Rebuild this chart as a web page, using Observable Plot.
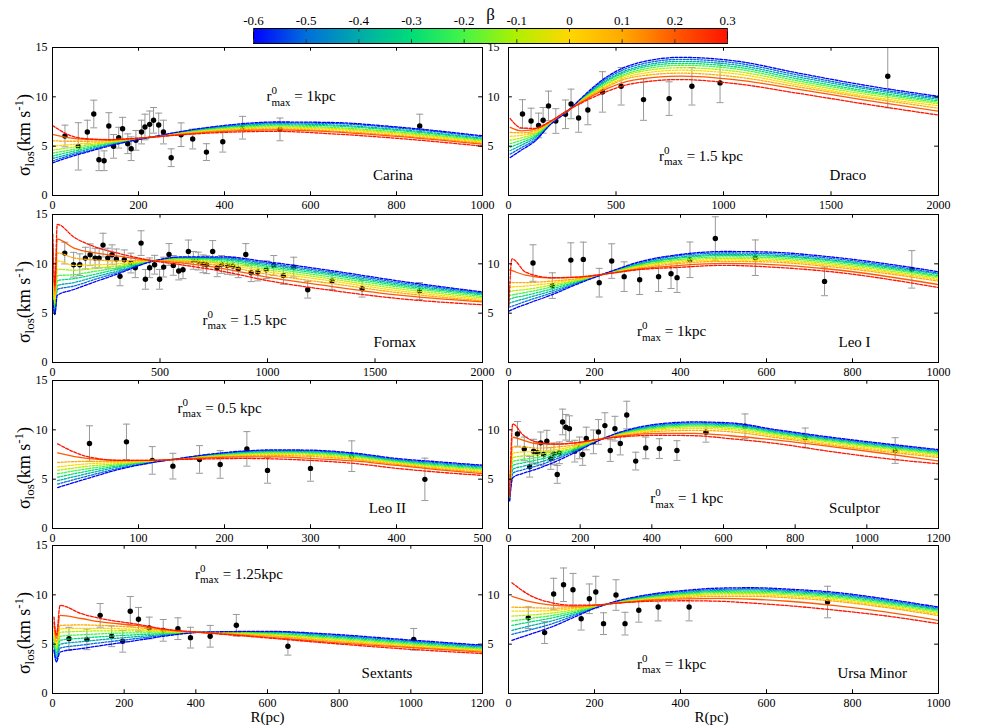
<!DOCTYPE html>
<html><head><meta charset="utf-8">
<script src="https://cdn.jsdelivr.net/npm/d3@7"></script>
<script src="https://cdn.jsdelivr.net/npm/@observablehq/plot@0.6"></script>
<style>
body{margin:0;background:#fff;}
#chart{position:relative;width:981px;height:725px;overflow:hidden;background:#fff;}
#chart svg{position:absolute;overflow:hidden;background:transparent;}
</style></head><body><div id="chart"></div>
<script>
const FONT = "Liberation Serif";
const ERR = "#999999";

// colour bar: anisotropy parameter beta
const betas = [-0.6, -0.5, -0.4, -0.3, -0.2, -0.1, 0, 0.1, 0.2, 0.3];
const betaColors = ["#0000ff", "#006edc", "#00aaaa", "#00dc78", "#46f546", "#aff000", "#ffd700", "#ffaa00", "#ff5a00", "#ff1400"];
const betaLabels = ["-0.6", "-0.5", "-0.4", "-0.3", "-0.2", "-0.1", "0", "0.1", "0.2", "0.3"];

// tick values
const yTicks = [0, 5, 10, 15];
const yTicksRightTop = [5, 10, 15];
const yTicksRight = [5, 10];
const ticks1000 = [0, 200, 400, 600, 800, 1000];
const ticks2000 = [0, 500, 1000, 1500, 2000];
const ticks500 = [0, 100, 200, 300, 400, 500];
const ticks1200 = [0, 200, 400, 600, 800, 1000, 1200];

const panelNames = ["Carina", "Draco", "Fornax", "Leo I", "Leo II", "Sculptor", "Sextants", "Ursa Minor"];
const rmaxTexts = [" = 1kpc", " = 1.5 kpc", " = 1.5 kpc", " = 1kpc", " = 0.5 kpc", " = 1 kpc", " = 1.25kpc", " = 1kpc"];

// observed points [R (pc), sigma_los, error]
const carinaObs = [[29,6.03,1.1],[60,4.98,2.4],[81,6.43,1.2],[96,8.26,1.4],[108,3.62,1.1],[120,3.52,1.0],[131,7.04,1.35],[142,4.98,1.2],[154,5.86,1.05],[163,6.77,1.15],[175,5.25,1.0],[183,4.74,1.2],[194,5.59,1.0],[207,6.43,1.2],[215,6.94,1.3],[226,7.21,1.35],[235,7.62,1.3],[247,7.15,1.2],[258,6.43,1.2],[276,3.83,0.9],[299,6.16,1.2],[326,5.72,1.0],[358,4.4,0.85],[396,5.45,1.05],[442,6.87,1.15],[529,6.7,1.15],[854,7.04,1.2]];
const dracoObs = [[65,8.26,1.45],[105,7.55,1.3],[140,7.1,1.25],[161,7.62,1.3],[186,9.08,1.5],[220,7.55,1.25],[265,8.23,1.45],[291,9.28,1.5],[326,7.86,1.45],[369,8.67,1.5],[437,10.5,2.05],[524,11.07,1.9],[628,9.72,2.1],[747,9.82,1.7],[853,11.07,1.9],[984,11.41,2.0],[1764,12.09,3.2]];
const fornaxObs = [[57,11.09,1.1],[98,9.91,1.25],[127,9.91,1.1],[153,10.58,1.1],[175,10.92,1.1],[198,10.58,1.0],[217,10.58,1.0],[235,11.9,1.2],[257,10.58,1.0],[277,10.92,1.0],[297,10.5,1.0],[314,8.73,0.95],[334,10.41,1.0],[365,10.08,1.0],[385,9.6,1.0],[412,12.1,1.25],[432,8.43,1.0],[452,9.6,1.0],[475,9.91,0.95],[498,8.43,1.0],[517,9.67,1.0],[542,10.95,1.1],[562,9.84,1.0],[587,9.27,0.9],[607,9.4,0.9],[632,11.26,1.15],[655,10.35,0.9],[678,10.28,0.9],[700,10.0,0.9],[717,9.91,0.9],[745,11.26,1.1],[766,9.6,0.9],[786,9.94,0.9],[814,9.84,0.9],[839,9.77,0.9],[864,9.5,0.9],[899,10.95,1.1],[924,9.1,0.9],[955,9.17,0.9],[994,9.4,0.9],[1029,9.84,1.0],[1074,8.83,0.9],[1122,9.67,1.0],[1187,7.38,0.85],[1300,8.26,0.85],[1440,7.48,0.85],[1707,7.25,0.85]];
const leo1Obs = [[57,10.08,1.85],[102,7.79,1.3],[145,10.38,1.75],[174,10.45,1.75],[211,8.09,1.45],[240,10.28,1.75],[269,8.7,1.5],[305,8.39,1.5],[349,8.7,1.5],[378,9.0,1.5],[392,8.6,1.5],[422,10.41,1.8],[481,12.57,2.2],[574,10.62,1.8],[735,8.22,1.45],[938,9.44,1.9]];
const leo2Obs = [[43,8.61,1.8],[86,8.78,1.8],[116,6.9,1.4],[140,6.32,1.3],[171,7.0,1.4],[195,6.49,1.4],[226,8.07,1.75],[250,5.89,1.3],[300,6.09,1.3],[348,7.33,1.55],[433,4.98,2.15]];
const sculptorObs = [[25,9.59,1.25],[44,8.07,1.2],[59,6.26,1.05],[70,7.84,1.2],[81,7.67,1.15],[90,8.68,1.1],[98,7.5,1.1],[107,8.85,1.1],[118,7.1,1.1],[127,7.57,1.1],[136,5.48,0.9],[142,7.67,1.1],[151,10.8,1.3],[160,10.26,1.3],[170,10.12,1.3],[185,7.84,1.1],[198,8.17,1.1],[207,7.5,1.1],[217,9.12,1.15],[237,8.78,1.2],[251,9.79,1.25],[269,10.43,1.3],[284,7.9,1.1],[297,10.12,1.25],[312,8.61,1.15],[330,11.5,1.4],[355,6.83,0.9],[383,8.17,1.1],[421,8.1,1.0],[470,7.9,1.0],[551,9.75,1.0],[660,10.36,1.25],[828,9.18,1.0],[1079,7.9,1.3]];
const sextantsObs = [[46,5.56,1.15],[96,5.49,1.05],[133,7.92,1.2],[165,5.8,1.05],[196,5.29,1.1],[217,8.33,1.5],[240,7.52,1.2],[270,6.64,1.1],[309,6.4,1.1],[350,6.57,1.1],[385,5.66,1.05],[440,5.8,1.1],[513,6.91,1.1],[657,4.79,0.9],[1008,5.49,1.1]];
const ursaObs = [[46,7.68,1.1],[84,6.17,1.1],[105,10.08,1.6],[128,11.02,1.7],[150,10.52,1.65],[169,7.58,1.15],[188,9.6,1.5],[203,10.28,1.6],[221,7.08,1.1],[250,9.98,1.55],[271,7.08,1.15],[303,8.43,1.2],[348,8.76,1.4],[420,8.76,1.4],[742,9.27,1.6]];

// model curves: radius samples, and at each radius sigma for beta = -0.6 ... 0.3
const carinaR = [0, 40, 80, 130, 180, 236, 300, 400, 520, 650, 800, 1000];
const carinaFit = [
 [3.3,3.5,3.75,4.0,4.3,4.6,5.0,5.55,6.2,7.1],
 [3.9,4.05,4.2,4.4,4.6,4.85,5.15,5.5,5.85,6.1],
 [4.4,4.5,4.65,4.8,4.95,5.1,5.3,5.5,5.7,5.75],
 [5.0,5.1,5.15,5.25,5.3,5.4,5.45,5.55,5.65,5.65],
 [5.5,5.55,5.6,5.6,5.65,5.65,5.7,5.7,5.75,5.75],
 [5.97,5.96,5.96,5.95,5.95,5.95,5.95,5.94,5.94,5.93],
 [6.5,6.45,6.4,6.4,6.35,6.3,6.3,6.25,6.2,6.15],
 [7.1,7.0,6.95,6.9,6.8,6.75,6.65,6.6,6.5,6.4],
 [7.45,7.35,7.25,7.15,7.05,6.95,6.85,6.75,6.65,6.5],
 [7.4,7.3,7.15,7.05,6.9,6.8,6.7,6.55,6.45,6.25],
 [6.95,6.85,6.7,6.6,6.45,6.35,6.25,6.1,6.0,5.8],
 [6.05,5.95,5.8,5.7,5.6,5.5,5.4,5.3,5.2,5.0]];
const dracoR = [8, 60, 120, 200, 270, 350, 430, 580, 800, 1050, 1350, 1650, 2000];
const dracoFit = [
 [3.85,4.2,4.55,4.9,5.25,5.6,6.0,6.4,6.9,7.8],
 [4.6,4.85,5.1,5.35,5.6,5.85,6.1,6.35,6.55,6.85],
 [5.45,5.6,5.8,5.95,6.1,6.25,6.4,6.55,6.7,6.8],
 [7.3,7.3,7.35,7.4,7.4,7.45,7.5,7.5,7.55,7.6],
 [8.45,8.46,8.47,8.48,8.5,8.5,8.5,8.52,8.53,8.55],
 [10.1,10.0,9.95,9.9,9.85,9.8,9.75,9.7,9.6,9.5],
 [11.6,11.45,11.3,11.2,11.05,10.95,10.8,10.7,10.55,10.3],
 [13.3,13.1,12.9,12.75,12.55,12.4,12.2,12.0,11.7,11.35],
 [14.0,13.8,13.6,13.4,13.2,12.95,12.7,12.4,12.1,11.75],
 [13.65,13.45,13.25,13.05,12.85,12.6,12.35,12.05,11.75,11.35],
 [12.4,12.2,12.0,11.8,11.6,11.4,11.2,11.0,10.75,10.35],
 [11.2,11.0,10.85,10.65,10.5,10.3,10.1,9.95,9.7,9.3],
 [10.05,9.9,9.75,9.6,9.45,9.3,9.1,8.85,8.55,8.15]];
const fornaxR = [1.5, 11, 22, 100, 200, 300, 456, 600, 800, 1000, 1300, 1600, 2000];
const fornaxFit = [
 [6.3,6.8,7.4,8.0,8.7,9.4,10.2,11.0,12.0,13.0],
 [4.85,5.0,5.2,5.4,5.7,6.0,6.4,6.8,7.2,7.8],
 [6.8,7.4,7.8,8.3,8.8,9.45,10.3,11.1,12.5,14.0],
 [7.4,7.75,8.1,8.5,8.9,9.35,9.85,10.6,11.6,12.7],
 [8.2,8.45,8.7,8.95,9.25,9.55,9.9,10.4,11.1,11.7],
 [8.95,9.1,9.25,9.45,9.6,9.8,10.0,10.3,10.8,11.1],
 [10.2,10.2,10.25,10.25,10.3,10.3,10.3,10.35,10.35,10.35],
 [10.7,10.65,10.6,10.55,10.5,10.4,10.35,10.25,10.1,9.9],
 [10.7,10.6,10.5,10.4,10.25,10.1,9.95,9.75,9.5,9.2],
 [10.2,10.05,9.9,9.75,9.6,9.4,9.2,8.95,8.65,8.3],
 [9.3,9.15,9.0,8.85,8.65,8.45,8.25,8.0,7.7,7.3],
 [8.3,8.15,8.0,7.85,7.7,7.5,7.3,7.1,6.85,6.5],
 [7.15,7.05,6.95,6.85,6.7,6.55,6.4,6.25,6.15,5.85]];
const leo1R = [1, 8, 40, 100, 160, 230, 300, 400, 500, 600, 750, 1000];
const leo1Fit = [
 [5.2,5.6,6.0,6.4,6.8,7.2,7.6,8.1,9.4,5.7],
 [5.35,5.7,6.1,6.5,6.85,7.25,7.65,8.1,9.3,10.5],
 [5.9,6.2,6.5,6.8,7.1,7.4,7.75,8.1,8.85,9.15],
 [6.85,7.05,7.25,7.45,7.65,7.85,8.05,8.25,8.55,8.6],
 [7.95,8.05,8.1,8.2,8.3,8.35,8.45,8.5,8.65,8.65],
 [9.1,9.1,9.05,9.05,9.05,9.0,9.0,9.0,9.0,9.0],
 [10.15,10.05,9.95,9.9,9.8,9.75,9.65,9.55,9.45,9.4],
 [10.95,10.85,10.7,10.6,10.45,10.35,10.2,10.05,9.85,9.65],
 [11.25,11.1,10.95,10.85,10.7,10.55,10.4,10.25,10.05,9.85],
 [11.2,11.05,10.9,10.8,10.65,10.5,10.35,10.2,9.95,9.7],
 [10.7,10.55,10.4,10.3,10.15,10.0,9.85,9.7,9.45,9.2],
 [9.2,9.05,8.95,8.8,8.7,8.55,8.4,8.25,7.9,7.6]];
const leo2R = [6, 40, 80, 115, 140, 180, 220, 260, 300, 350, 400, 450, 500];
const leo2Fit = [
 [4.15,4.5,4.85,5.2,5.55,5.9,6.25,6.7,7.67,8.58],
 [5.05,5.3,5.55,5.8,6.05,6.3,6.55,6.8,7.1,7.3],
 [6.05,6.15,6.3,6.4,6.5,6.6,6.7,6.8,6.9,6.9],
 [6.66,6.7,6.75,6.8,6.8,6.85,6.85,6.9,6.92,6.9],
 [7.0,7.0,7.0,7.0,7.0,7.0,6.99,6.99,6.98,6.98],
 [7.5,7.45,7.4,7.35,7.3,7.3,7.25,7.2,7.15,7.05],
 [7.84,7.78,7.7,7.62,7.55,7.5,7.42,7.35,7.25,7.1],
 [7.97,7.9,7.82,7.75,7.68,7.6,7.5,7.4,7.25,7.05],
 [7.94,7.86,7.78,7.7,7.62,7.52,7.42,7.3,7.1,6.9],
 [7.65,7.57,7.48,7.4,7.3,7.2,7.1,7.0,6.85,6.6],
 [7.1,7.0,6.92,6.84,6.76,6.68,6.6,6.5,6.4,6.1],
 [6.75,6.65,6.55,6.45,6.35,6.25,6.15,6.05,5.95,5.7],
 [6.42,6.32,6.22,6.12,6.02,5.92,5.82,5.7,5.55,5.38]];
const sculptorR = [3, 12, 40, 80, 130, 180, 245, 320, 420, 520, 620, 750, 900, 1050, 1200];
const sculptorFit = [
 [2.8,2.85,2.9,2.95,3.0,3.05,3.1,3.2,3.3,3.4],
 [5.15,5.6,6.0,6.4,6.8,7.2,7.65,8.25,9.25,10.6],
 [5.58,5.95,6.3,6.65,7.0,7.35,7.75,8.25,8.95,9.5],
 [6.05,6.35,6.65,6.95,7.2,7.5,7.8,8.15,8.6,8.75],
 [6.76,7.0,7.2,7.4,7.6,7.8,8.0,8.25,8.55,8.55],
 [7.6,7.75,7.85,7.95,8.05,8.15,8.3,8.45,8.65,8.65],
 [8.8,8.85,8.85,8.9,8.9,8.95,8.95,9.0,9.0,9.0],
 [9.86,9.8,9.75,9.7,9.65,9.6,9.55,9.45,9.4,9.3],
 [10.6,10.5,10.4,10.3,10.2,10.1,10.0,9.85,9.65,9.45],
 [10.8,10.7,10.6,10.5,10.4,10.3,10.15,9.95,9.65,9.4],
 [10.7,10.6,10.5,10.4,10.3,10.15,10.0,9.8,9.4,9.1],
 [10.0,9.9,9.8,9.7,9.6,9.5,9.35,9.2,8.95,8.6],
 [9.25,9.15,9.05,8.95,8.85,8.75,8.6,8.45,8.3,7.8],
 [8.6,8.5,8.4,8.3,8.2,8.1,7.95,7.8,7.6,7.1],
 [8.0,7.9,7.8,7.7,7.6,7.5,7.35,7.2,6.85,6.56]];
const sextantsR = [4, 11, 21, 80, 135, 230, 320, 420, 600, 785, 970, 1200];
const sextantsFit = [
 [4.4,4.8,5.2,5.5,5.8,6.1,6.4,6.8,7.2,7.75],
 [3.2,3.5,3.8,4.1,4.4,4.7,5.0,5.3,5.6,5.9],
 [4.2,4.6,5.0,5.4,5.8,6.2,6.55,6.9,7.92,8.93],
 [4.55,4.9,5.25,5.6,5.95,6.3,6.6,6.95,7.6,8.1],
 [4.85,5.15,5.45,5.75,6.05,6.35,6.6,6.9,7.25,7.6],
 [5.35,5.55,5.75,5.95,6.15,6.35,6.5,6.7,6.9,7.05],
 [5.85,5.93,6.0,6.08,6.15,6.22,6.3,6.38,6.45,6.5],
 [6.22,6.21,6.2,6.2,6.2,6.19,6.19,6.18,6.18,6.17],
 [6.3,6.25,6.2,6.1,6.05,6.0,5.9,5.85,5.72,5.63],
 [6.0,5.9,5.8,5.7,5.6,5.5,5.4,5.3,5.16,5.06],
 [5.5,5.4,5.3,5.2,5.1,5.0,4.9,4.8,4.72,4.55],
 [4.9,4.8,4.7,4.6,4.5,4.45,4.35,4.3,4.2,4.05]];
const ursaR = [8, 50, 100, 150, 200, 250, 330, 410, 490, 570, 650, 760, 880, 1000];
const ursaFit = [
 [5.39,6.0,6.4,6.9,7.35,7.85,8.35,8.75,9.84,11.22],
 [6.0,6.45,6.85,7.25,7.6,7.95,8.35,8.7,9.3,9.95],
 [6.74,7.05,7.35,7.65,7.9,8.15,8.4,8.65,8.95,9.2],
 [7.68,7.85,8.0,8.15,8.3,8.45,8.6,8.7,8.85,8.95],
 [8.63,8.67,8.7,8.75,8.78,8.82,8.85,8.9,8.95,8.95],
 [9.34,9.3,9.28,9.25,9.22,9.2,9.18,9.16,9.15,9.15],
 [10.05,9.95,9.85,9.8,9.72,9.65,9.58,9.5,9.45,9.35],
 [10.45,10.35,10.25,10.15,10.05,9.95,9.85,9.72,9.6,9.4],
 [10.68,10.55,10.45,10.35,10.25,10.12,10.0,9.85,9.65,9.35],
 [10.72,10.6,10.5,10.38,10.26,10.14,10.0,9.85,9.55,9.15],
 [10.58,10.46,10.35,10.24,10.12,10.0,9.85,9.7,9.35,8.9],
 [10.25,10.13,10.02,9.9,9.78,9.65,9.5,9.35,8.9,8.45],
 [9.57,9.45,9.33,9.22,9.1,8.97,8.83,8.7,8.25,7.85],
 [8.76,8.65,8.55,8.45,8.33,8.2,8.05,7.9,7.41,7.08]];

// ---------- layout ----------
const FRAME_H = 148;
const rowTops = [47, 214, 380, 545];
const panels = [
  {i:0, col:0, row:0, xMax:1000, xt:ticks1000, obs:carinaObs, fr:carinaR, fit:carinaFit, rAt:[499,9.5], nameAt:[793,1.5]},
  {i:1, col:1, row:0, xMax:2000, xt:ticks2000, obs:dracoObs, fr:dracoR, fit:dracoFit, rAt:[702,3.45], nameAt:[1581,1.5]},
  {i:2, col:0, row:1, xMax:2000, xt:ticks2000, obs:fornaxObs, fr:fornaxR, fit:fornaxFit, rAt:[700,3.77], nameAt:[1594,1.55]},
  {i:3, col:1, row:1, xMax:1000, xt:ticks1000, obs:leo1Obs, fr:leo1R, fit:leo1Fit, rAt:[300,2.6], nameAt:[806,1.5]},
  {i:4, col:0, row:2, xMax:500, xt:ticks500, obs:leo2Obs, fr:leo2R, fit:leo2Fit, rAt:[146,11.7], nameAt:[390,1.5]},
  {i:5, col:1, row:2, xMax:1200, xt:ticks1200, obs:sculptorObs, fr:sculptorR, fit:sculptorFit, rAt:[397,2.52], nameAt:[967,1.5]},
  {i:6, col:0, row:3, xMax:1200, xt:ticks1200, obs:sextantsObs, fr:sextantsR, fit:sextantsFit, rAt:[399,11.56], nameAt:[935,1.5]},
  {i:7, col:1, row:3, xMax:1000, xt:ticks1000, obs:ursaObs, fr:ursaR, fit:ursaFit, rAt:[300,2.46], nameAt:[847,1.5]}
];

const capSymbol = {draw(ctx, size) { const w = Math.sqrt(size / Math.PI); ctx.moveTo(-w, 0); ctx.lineTo(w, 0); }};

function richText(xv, yv, parts, anchor = "start") {
  return (index, scales) => {
    const t = d3.create("svg:text")
      .attr("x", scales.x(xv)).attr("y", scales.y(yv))
      .attr("font-family", FONT).attr("font-size", 15).attr("fill", "black")
      .attr("text-anchor", anchor);
    for (const p of parts) {
      const s = t.append("tspan").text(p.t);
      if (p.size) s.attr("font-size", p.size);
      if (p.dx) s.attr("dx", p.dx);
      if (p.dy) s.attr("dy", p.dy);
    }
    return t.node();
  };
}

function yLabelMark(cy) {
  return () => {
    const t = d3.create("svg:text")
      .attr("transform", `translate(30,${cy}) rotate(-90)`)
      .attr("font-family", FONT).attr("font-size", 18).attr("fill", "black")
      .attr("text-anchor", "middle");
    t.append("tspan").text("σ");
    t.append("tspan").text("los").attr("font-size", 13).attr("dy", 4);
    t.append("tspan").text("(km s").attr("dy", -4);
    t.append("tspan").text("-1").attr("font-size", 13).attr("dy", -7);
    t.append("tspan").text(")").attr("dy", 7);
    return t.node();
  };
}

const chart = document.getElementById("chart");
const fmt = d => String(d);

for (const p of panels) {
  const left = p.col === 0, bottom = p.row === 3;
  const W = left ? 500 : 481;
  const mL = left ? 52 : 8, mR = left ? 18 : 43, mT = 6, mB = bottom ? 32 : 24;
  const H = mT + FRAME_H + mB;
  const fitRows = p.fr.flatMap((r, k) => betas.map((b, j) => ({R: r, s: p.fit[k][j], beta: b})));
  const obs = p.obs.map(([R, s, e]) => ({R, s, lo: s - e, hi: s + e}));
  const tx = p.xMax * 0.009;
  const lineOpts = {x: "R", y: "s", z: "beta", stroke: "beta", strokeWidth: 1.3, curve: "monotone-x", clip: true};
  const marks = [
    Plot.ruleX(obs, {x: "R", y1: "lo", y2: "hi", stroke: ERR, strokeWidth: 1, clip: true}),
    Plot.dot(obs, {x: "R", y: "lo", symbol: capSymbol, r: 3.5, stroke: ERR, fill: "none", strokeWidth: 1, clip: true}),
    Plot.dot(obs, {x: "R", y: "hi", symbol: capSymbol, r: 3.5, stroke: ERR, fill: "none", strokeWidth: 1, clip: true}),
    Plot.dot(obs, {x: "R", y: "s", r: 2.7, fill: "black", stroke: "none"}),
    Plot.line(fitRows.filter(d => d.beta > -0.55 && d.beta < 0.15), {...lineOpts, strokeDasharray: "2,1.5"}),
    Plot.line(fitRows.filter(d => d.beta === -0.6), {...lineOpts, strokeDasharray: "3,1.5"}),
    Plot.line(fitRows.filter(d => d.beta === 0.2), {...lineOpts}),
    Plot.line(fitRows.filter(d => d.beta === 0.3), {...lineOpts, strokeDasharray: "3,1.5"}),
    Plot.frame({stroke: "black", strokeWidth: 1}),
    Plot.ruleX(p.xt, {x: d => d, y1: 0, y2: 0.38, stroke: "black"}),
    Plot.ruleX(p.xt, {x: d => d, y1: 15, y2: 14.62, stroke: "black"}),
    Plot.ruleY(yTicks, {y: d => d, x1: 0, x2: tx, stroke: "black"}),
    Plot.ruleY(yTicks, {y: d => d, x1: p.xMax, x2: p.xMax - tx, stroke: "black"}),
    Plot.axisX(p.xt, {anchor: "bottom", tickSize: 0, tickPadding: 5, tickFormat: fmt, fontSize: 12, label: null}),
    richText(p.rAt[0], p.rAt[1], [
      {t: "r"},
      {t: "0", size: 11, dy: -7},
      {t: "max", size: 11, dx: -5.5, dy: 11.5},
      {t: rmaxTexts[p.i], size: 15, dy: -4.5}
    ]),
    richText(p.nameAt[0], p.nameAt[1], [{t: panelNames[p.i], size: 15}], "middle")
  ];
  if (left) {
    marks.push(Plot.axisY(yTicks, {anchor: "left", tickSize: 0, tickPadding: 5, tickFormat: fmt, fontSize: 12, label: null}));
    marks.push(Plot.axisY(p.row === 0 ? yTicksRightTop : yTicksRight, {anchor: "right", tickSize: 0, tickPadding: 5, tickFormat: fmt, fontSize: 12, label: null}));
    marks.push(yLabelMark(mT + FRAME_H / 2 + 14));
  }
  if (bottom) marks.push(Plot.text(["R(pc)"], {frameAnchor: "bottom", dy: 24, dx: left ? 0 : -12, fontSize: 15, lineAnchor: "middle", fill: "black"}));
  const svg = Plot.plot({
    width: W, height: H,
    marginLeft: mL, marginRight: mR, marginTop: mT, marginBottom: mB,
    style: {fontFamily: FONT, fontSize: "12px", background: "transparent", color: "black"},
    x: {type: "linear", domain: [0, p.xMax], label: null},
    y: {type: "linear", domain: [0, 15], label: null, axis: left ? undefined : null},
    color: {type: "ordinal", domain: betas, range: betaColors},
    marks
  });
  svg.style.left = (left ? 0 : 500) + "px";
  svg.style.top = (rowTops[p.row] - mT) + "px";
  chart.appendChild(svg);
}

// ---------- colour bar ----------
const gradientMark = (index, scales) => {
  const g = d3.create("svg:g");
  const grad = g.append("defs").append("linearGradient").attr("id", "betaGrad");
  betas.forEach((b, k) => grad.append("stop")
    .attr("offset", (b - betas[0]) / (betas[betas.length - 1] - betas[0]))
    .attr("stop-color", betaColors[k]));
  const x0 = scales.x(betas[0]), x1 = scales.x(betas[betas.length - 1]);
  g.append("rect").attr("x", x0).attr("width", x1 - x0)
    .attr("y", scales.y(1)).attr("height", scales.y(0) - scales.y(1))
    .attr("fill", "url(#betaGrad)");
  return g.node();
};
const bar = Plot.plot({
  width: 981, height: 46,
  marginLeft: 253, marginRight: 254, marginTop: 28, marginBottom: 3,
  style: {fontFamily: FONT, fontSize: "12px", background: "transparent", color: "black"},
  x: {type: "linear", domain: [betas[0], betas[betas.length - 1]], label: null},
  y: {type: "linear", domain: [0, 1], axis: null},
  marks: [
    gradientMark,
    Plot.frame({stroke: "black"}),
    Plot.ruleX(betas, {x: d => d, y1: 1, y2: 0.75, stroke: "#333"}),
    Plot.ruleX(betas, {x: d => d, y1: 0, y2: 0.25, stroke: "#333"}),
    Plot.axisX(betas, {anchor: "top", tickSize: 0, tickPadding: 4, tickFormat: (d, k) => betaLabels[k], fontSize: 13, label: null}),
    Plot.text(["β"], {frameAnchor: "top", dy: -21, fontSize: 17, fill: "black"})
  ]
});
bar.style.left = "0px";
bar.style.top = "0px";
chart.appendChild(bar);
</script>
</body></html>
